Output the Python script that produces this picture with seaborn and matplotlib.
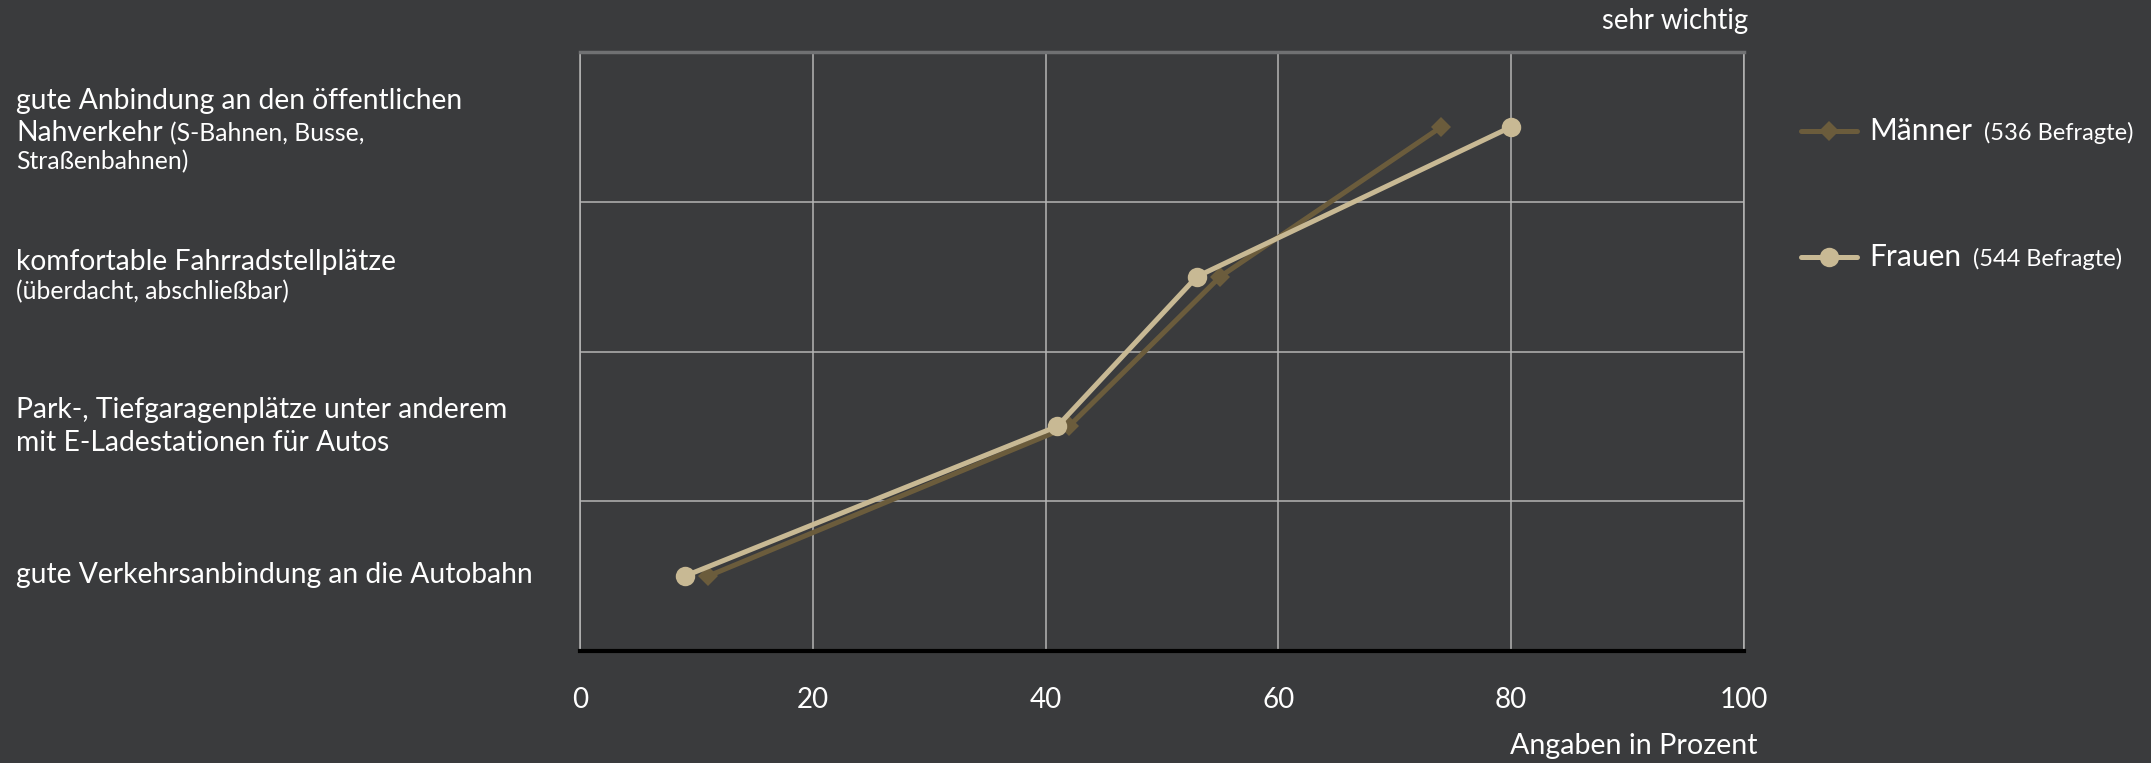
import matplotlib
matplotlib.use("Agg")
import matplotlib.pyplot as plt
from matplotlib.lines import Line2D
import seaborn as sns
import pandas as pd

# ---- data ---------------------------------------------------------------
categories = [
    "gute Anbindung an den öffentlichen Nahverkehr",
    "komfortable Fahrradstellplätze",
    "Park-, Tiefgaragenplätze unter anderem mit E-Ladestationen für Autos",
    "gute Verkehrsanbindung an die Autobahn",
]
maenner = [74, 55, 42, 11]
frauen = [80, 53, 41, 9]
series_names = ["Männer", "Frauen"]
respondents = [536, 544]
x_ticks = [0, 20, 40, 60, 80, 100]
top_note = "sehr wichtig"
x_title = "Angaben in Prozent"

# label lines per category: list of lines, each a list of (text, is_small)
label_lines = [
    [[("gute Anbindung an den öffentlichen", False)],
     [("Nahverkehr", False), ("(S-Bahnen, Busse,", True)],
     [("Straßenbahnen)", True)]],
    [[("komfortable Fahrradstellplätze", False)],
     [("(überdacht, abschließbar)", True)]],
    [[("Park-, Tiefgaragenplätze unter anderem", False)],
     [("mit E-Ladestationen für Autos", False)]],
    [[("gute Verkehrsanbindung an die Autobahn", False)]],
]
# baselines (figure px from top) of each label line
label_baselines = [[109, 141, 169], [270, 299], [418, 451], [583]]

# ---- style --------------------------------------------------------------
W, H = 2151, 763
BG = "#3a3b3d"
COL_M = "#6b5c3c"
COL_F = "#c8b994"
TXT = "#ffffff"
GRID = "#b5b5b5"
BIG, SMALL = 20.3, 17.8

sns.set_theme(style="dark")
plt.rcParams["font.family"] = ["Lato", "DejaVu Sans"]

fig = plt.figure(figsize=(W / 100, H / 100), dpi=100, facecolor=BG)
ax = fig.add_axes([580 / W, 1 - 651 / H, (1744 - 580) / W, (651 - 52) / H])
ax.set_facecolor(BG)

n = len(categories)
df = pd.DataFrame({
    "Wert": maenner + frauen,
    "pos": list(range(n)) * 2,
    "Geschlecht": [series_names[0]] * n + [series_names[1]] * n,
})

sns.lineplot(
    data=df, x="Wert", y="pos", hue="Geschlecht", style="Geschlecht",
    hue_order=series_names, style_order=series_names,
    palette={series_names[0]: COL_M, series_names[1]: COL_F},
    markers={series_names[0]: "D", series_names[1]: "o"},
    dashes=False, sort=False, estimator=None, legend=False,
    linewidth=3.6, markersize=14, markeredgewidth=0, ax=ax,
)
# diamonds a touch smaller than circles
for line in ax.get_lines():
    if line.get_marker() == "D":
        line.set_markersize(10)

ax.set_xlim(0, 100)
ax.set_ylim(n - 0.5, -0.5)
ax.set_xticks(x_ticks)
ax.set_xticklabels([str(t) for t in x_ticks], color=TXT, fontsize=20)
ax.set_yticks([i + 0.5 for i in range(n - 1)])
ax.set_yticklabels([])
ax.tick_params(axis="both", length=0)
ax.tick_params(axis="x", pad=26)
ax.set_xlabel("")
ax.set_ylabel("")
ax.grid(True, color=GRID, linewidth=1.1)
ax.set_axisbelow(True)

for side in ["left", "right"]:
    ax.spines[side].set_visible(True)
    ax.spines[side].set_color(GRID)
    ax.spines[side].set_linewidth(1.1)
ax.spines["top"].set_visible(True)
ax.spines["top"].set_color("#707173")
ax.spines["top"].set_linewidth(2.5)
ax.spines["bottom"].set_visible(True)
ax.spines["bottom"].set_color("#000000")
ax.spines["bottom"].set_linewidth(3)


def fx(x):
    return x / W


def fy(y):
    return 1 - y / H


renderer = fig.canvas.get_renderer()

# category labels on the left, with smaller notes in parentheses
for lines, bases in zip(label_lines, label_baselines):
    for runs, base in zip(lines, bases):
        x = 16
        for text, small in runs:
            t = fig.text(fx(x), fy(base), text, color=TXT,
                         fontsize=SMALL if small else BIG,
                         ha="left", va="baseline")
            x = t.get_window_extent(renderer).x1 + 7

# axis notes
fig.text(fx(1748), fy(29), top_note, color=TXT, fontsize=19.8,
         ha="right", va="baseline")
fig.text(fx(1757), fy(754), x_title, color=TXT, fontsize=20.6,
         ha="right", va="baseline")

# legend
legend_y = [131, 257]
for name, count, col, mk, ms, ly in zip(
        series_names, respondents, [COL_M, COL_F], ["D", "o"], [10, 14], legend_y):
    fig.add_artist(Line2D([fx(1801), fx(1857)], [fy(ly), fy(ly)],
                          color=col, linewidth=3.6, solid_capstyle="round"))
    fig.add_artist(Line2D([fx(1829)], [fy(ly)], color=col, marker=mk,
                          markersize=ms, markeredgewidth=0, linestyle="none"))
    t = fig.text(fx(1869), fy(ly + 9), name, color=TXT, fontsize=21.5,
                 ha="left", va="baseline")
    x1 = t.get_window_extent(renderer).x1
    fig.text(fx(x1 + 12), fy(ly + 9), f"({count} Befragte)", color=TXT,
             fontsize=17, ha="left", va="baseline")

fig.savefig("out.png", dpi=100, facecolor=BG)
